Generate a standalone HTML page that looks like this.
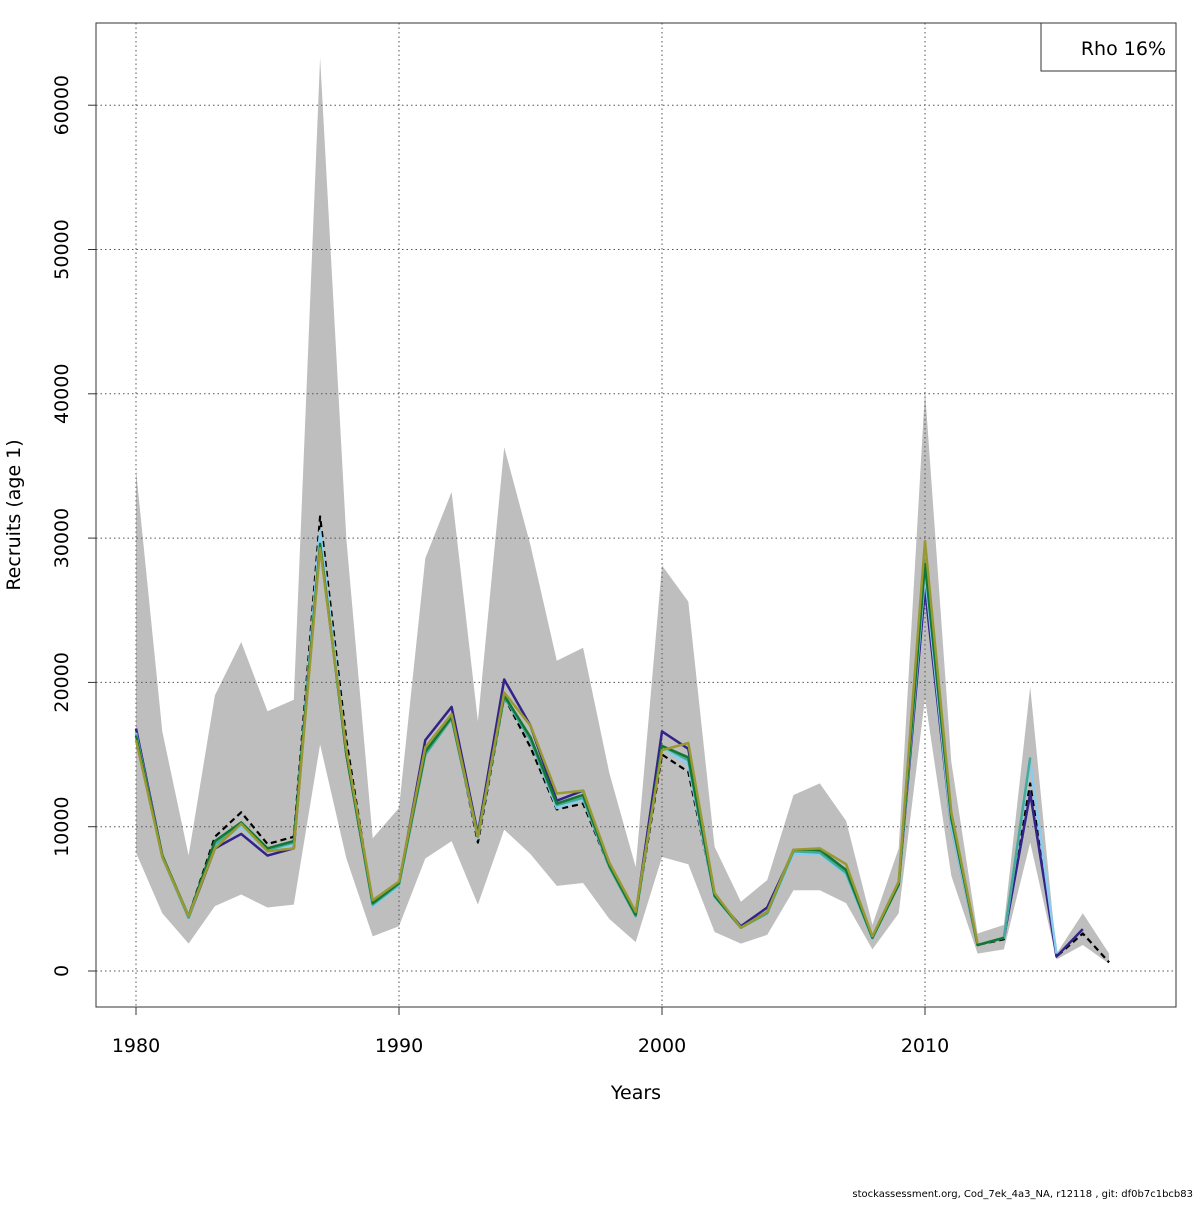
<!DOCTYPE html>
<html><head><meta charset="utf-8"><style>
body{margin:0;background:#fff}
text{font-family:"DejaVu Sans","Liberation Sans",sans-serif}
</style></head><body>
<svg id="chart" width="1200" height="1200" xmlns="http://www.w3.org/2000/svg"></svg>
<script>
const years=[];for(let y=1980;y<=2017;y++)years.push(y);
const upper=[34.7,16.6,8.0,19.1,22.8,18.0,18.8,63.3,29.9,9.2,11.3,28.6,33.2,17.3,36.3,29.5,21.5,22.4,13.7,7.2,28.1,25.6,8.6,4.8,6.3,12.2,13.0,10.4,3.2,8.5,40.2,14.5,2.6,3.2,19.7,1.2,4.0,1.2];
const lower=[8.2,4.0,1.9,4.5,5.3,4.4,4.6,15.7,7.8,2.4,3.1,7.8,9.0,4.6,9.8,8.1,5.9,6.1,3.6,2.0,7.9,7.4,2.7,1.9,2.5,5.6,5.6,4.7,1.5,4.0,18.9,6.6,1.2,1.5,8.9,0.8,1.8,0.5];
const base=[16.8,8.0,3.8,9.3,11.0,8.8,9.3,31.5,16.0,4.6,6.0,15.0,17.8,8.9,19.0,15.5,11.2,11.6,7.2,3.8,15.0,13.8,5.2,3.0,4.0,8.3,8.3,7.0,2.3,6.0,28.0,10.5,1.8,2.2,13.0,1.0,2.6,0.6];
const peel1=[16.8,8.0,3.7,8.5,9.5,8.0,8.5,30.0,15.0,4.6,6.0,16.0,18.3,9.5,20.2,17.0,11.8,12.5,7.3,3.9,16.6,15.4,5.2,3.1,4.4,8.3,8.3,7.0,2.3,6.0,26.5,10.0,1.8,2.3,12.3,1.0,2.9];
const peel2=[16.5,7.9,3.7,8.7,10.0,8.3,8.8,30.5,15.2,4.5,5.9,15.2,17.6,9.2,19.2,16.0,11.3,11.9,7.2,3.8,15.5,14.3,5.1,3.0,4.0,8.1,8.1,6.7,2.2,6.0,27.5,10.0,1.8,2.3,14.5,1.2];
const peel3=[16.4,7.9,3.7,8.8,10.2,8.4,8.9,29.5,15.0,4.6,6.0,15.0,17.5,9.3,19.0,16.0,11.5,12.0,7.2,3.8,15.6,14.6,5.2,3.0,4.0,8.3,8.2,6.8,2.3,6.0,28.5,10.5,1.8,2.3,14.8];
const peel4=[16.3,8.0,3.8,9.0,10.3,8.5,9.0,29.6,15.0,4.7,6.1,15.2,17.6,9.4,19.1,16.2,11.6,12.2,7.3,3.9,15.6,14.8,5.2,3.0,4.1,8.4,8.4,7.0,2.3,6.0,28.2,10.6,1.8,2.3];
const peel5=[16.0,7.9,3.8,8.5,10.2,8.3,8.5,29.3,15.3,4.9,6.2,15.5,17.8,9.3,19.3,17.0,12.3,12.5,7.5,4.1,15.3,15.8,5.4,3.0,4.1,8.4,8.5,7.4,2.4,6.2,29.8,11.0,1.9];
const xTicks=[1980,1990,2000,2010];
const yTicks=[0,10000,20000,30000,40000,50000,60000];
const legendLabel="Rho 16%";

const NS="http://www.w3.org/2000/svg";
const svg=document.getElementById('chart');
const L=96,R=1176,T=23,B=1007;
const xs=y=>136+(y-1980)*26.3;
const ys=v=>971-v*14.43;
function el(tag,attrs,parent){const e=document.createElementNS(NS,tag);for(const k in attrs)e.setAttribute(k,attrs[k]);(parent||svg).appendChild(e);return e;}

let pts=years.map((y,i)=>xs(y)+','+ys(upper[i]));
for(let i=years.length-1;i>=0;i--)pts.push(xs(years[i])+','+ys(lower[i]));
const band=el('polygon',{points:pts.join(' '),fill:'#bebebe',stroke:'none'});



xTicks.forEach(t=>{const g=el('line',{x1:xs(t),x2:xs(t),y1:T,y2:B,stroke:'#555','stroke-dasharray':'1.5,3','stroke-width':1});

});
yTicks.forEach(t=>{const g=el('line',{x1:L,x2:R,y1:ys(t/1000),y2:ys(t/1000),stroke:'#555','stroke-dasharray':'1.5,3','stroke-width':1});

});

function line(arr,color,name,dash,w){
 const p=arr.map((v,i)=>xs(years[i])+','+ys(v)).join(' ');
 const l=el('polyline',{points:p,fill:'none',stroke:color,'stroke-width':w||2.5,'stroke-linejoin':'round'});
 if(dash)l.setAttribute('stroke-dasharray',dash);
 
 
}
line(base,'#000000','base-line','6,4',2.2);
line(peel1,'#332288','peel-1-line');
line(peel2,'#88CCEE','peel-2-line');
line(peel3,'#44AA99','peel-3-line');
line(peel4,'#117733','peel-4-line');
line(peel5,'#999933','peel-5-line');

const box=el('rect',{x:L,y:T,width:R-L,height:B-T,fill:'none',stroke:'#333','stroke-width':1});



xTicks.forEach(t=>{el('line',{x1:xs(t),x2:xs(t),y1:B,y2:B+8,stroke:'#333'});
 const tx=el('text',{x:xs(t),y:1052,'text-anchor':'middle','font-size':19,fill:'#000'});tx.textContent=t;
 
 });
yTicks.forEach(t=>{const y=ys(t/1000);el('line',{x1:L,x2:L-8,y1:y,y2:y,stroke:'#333'});
 const tx=el('text',{x:68,y:y,'text-anchor':'middle','font-size':19,fill:'#000',transform:`rotate(-90 68 ${y})`});tx.textContent=t;
 
 });

const xt=el('text',{x:636,y:1099,'text-anchor':'middle','font-size':19});xt.textContent='Years';


const yt=el('text',{x:20,y:515,'text-anchor':'middle','font-size':19,transform:'rotate(-90 20 515)'});yt.textContent='Recruits (age 1)';



const lg=el('rect',{x:1041,y:23,width:135,height:48,fill:'#fff',stroke:'#333'});


const lt=el('text',{x:1166,y:55,'text-anchor':'end','font-size':19});lt.textContent=legendLabel;



const ft=el('text',{x:1193,y:1197,'text-anchor':'end','font-size':10});ft.textContent='stockassessment.org, Cod_7ek_4a3_NA, r12118 , git: df0b7c1bcb83';


</script>
</body></html>
